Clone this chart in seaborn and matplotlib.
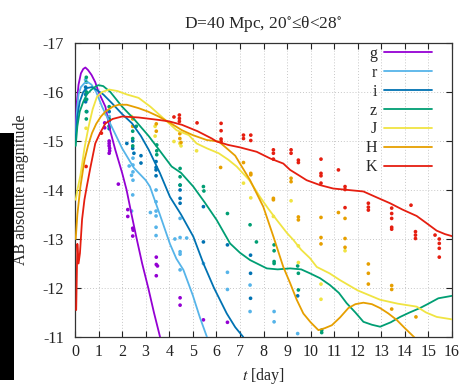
import matplotlib
matplotlib.use("Agg")
import matplotlib.pyplot as plt
import seaborn as sns
import pandas as pd
from matplotlib.patches import Rectangle

# ---- light-curve models (t in days, AB absolute magnitude) ----
bands = ["g", "r", "i", "z", "J", "H", "K"]
colors = ["#9400d3", "#56b4e9", "#0072b2", "#009e73", "#f0e442", "#e69f00", "#e51e10"]

g_t = [0.02, 0.08, 0.15, 0.25, 0.35, 0.44, 0.55, 0.7, 0.86, 1.0, 1.29, 1.5, 1.71, 2.0, 2.19, 2.4, 2.62, 2.85, 3.11, 3.35, 3.61]
g_m = [-15.2, -15.8, -16.15, -16.38, -16.47, -16.5, -16.45, -16.35, -16.2, -16.0, -15.7, -15.2, -14.82, -14.35, -14.0, -13.5, -13.0, -12.5, -12.0, -11.5, -11.0]

r_t = [0.02, 0.08, 0.15, 0.25, 0.4, 0.55, 0.7, 0.9, 1.15, 1.5, 2.0, 2.5, 3.0, 3.18, 3.6, 4.03, 4.3, 4.6, 5.0, 5.3, 5.6]
r_m = [-15.0, -15.6, -15.95, -16.1, -16.18, -16.2, -16.15, -16.0, -15.7, -15.35, -14.85, -14.45, -14.2, -14.07, -13.5, -12.9, -12.6, -12.37, -11.85, -11.4, -11.0]

i_t = [0.02, 0.1, 0.2, 0.35, 0.5, 0.72, 0.9, 1.2, 1.57, 2.0, 2.42, 2.8, 3.13, 3.6, 4.03, 4.5, 5.02, 5.45, 5.9, 6.44, 6.8, 7.14]
i_m = [-15.0, -15.5, -15.8, -16.0, -16.08, -16.1, -16.05, -15.95, -15.77, -15.55, -15.36, -15.1, -14.82, -14.35, -13.86, -13.5, -13.05, -12.5, -12.0, -11.48, -11.2, -11.0]

z_t = [0.03, 0.1, 0.2, 0.35, 0.5, 0.7, 0.9, 1.0, 1.2, 1.5, 2.0, 2.5, 3.13, 3.6, 4.1, 4.5, 5.02, 5.5, 6.01, 6.58, 7.0, 7.43, 8.14, 8.6, 9.13, 9.6, 9.97, 10.4, 10.82, 11.2, 11.53, 11.9, 12.24, 12.6, 12.95, 13.4, 13.8, 14.2, 14.64, 15.0, 15.42, 16.0]
z_m = [-14.9, -15.3, -15.6, -15.8, -15.95, -16.05, -16.12, -16.14, -16.12, -16.0, -15.7, -15.45, -15.1, -14.8, -14.48, -14.35, -14.07, -13.75, -13.39, -12.91, -12.72, -12.57, -12.4, -12.38, -12.4, -12.38, -12.3, -12.2, -12.06, -11.9, -11.69, -11.5, -11.31, -11.25, -11.21, -11.3, -11.41, -11.5, -11.59, -11.68, -11.79, -11.84]

J_t = [0.03, 0.1, 0.23, 0.4, 0.58, 0.75, 0.93, 1.15, 1.45, 1.8, 2.2, 2.7, 3.2, 3.83, 4.31, 4.83, 5.16, 5.6, 6.1, 6.5, 6.86, 7.4, 7.85, 8.2, 8.56, 9.0, 9.27, 9.6, 9.97, 10.26, 10.8, 11.25, 12.0, 12.95, 13.7, 14.5, 14.9, 15.35, 16.0]
J_m = [-13.8, -14.0, -14.3, -14.85, -15.3, -15.65, -15.9, -16.0, -16.05, -16.02, -15.95, -15.88, -15.7, -15.43, -15.22, -15.12, -14.95, -14.85, -14.75, -14.62, -14.48, -14.2, -13.86, -13.62, -13.39, -13.12, -12.98, -12.78, -12.61, -12.43, -12.3, -12.16, -11.95, -11.76, -11.68, -11.62, -11.5, -11.41, -11.36]

H_t = [0.03, 0.1, 0.23, 0.4, 0.55, 0.72, 0.9, 1.1, 1.29, 1.6, 1.85, 2.2, 2.7, 3.1, 3.55, 4.0, 4.54, 5.0, 5.59, 6.1, 6.44, 6.8, 7.0, 7.43, 7.99, 8.42, 8.84, 9.13, 9.41, 9.69, 10.0, 10.33, 10.6, 10.9, 11.25, 11.6, 11.9, 12.24, 12.6, 12.95, 13.3, 13.65, 14.0, 14.43]
H_m = [-13.0, -13.5, -14.07, -14.6, -14.9, -15.16, -15.35, -15.5, -15.6, -15.7, -15.74, -15.74, -15.67, -15.6, -15.5, -15.38, -15.22, -15.12, -15.02, -14.99, -14.85, -14.7, -14.54, -14.2, -13.66, -13.05, -12.43, -12.1, -11.76, -11.48, -11.3, -11.14, -11.18, -11.24, -11.4, -11.59, -11.67, -11.7, -11.67, -11.59, -11.48, -11.35, -11.18, -10.98]

K_t = [0.05, 0.1, 0.15, 0.21, 0.3, 0.4, 0.5, 0.65, 0.86, 1.05, 1.29, 1.6, 2.0, 2.7, 3.55, 4.0, 4.54, 5.2, 5.81, 6.01, 6.5, 7.0, 7.71, 8.3, 8.84, 9.13, 9.5, 9.83, 10.4, 10.96, 11.6, 12.24, 12.8, 13.37, 13.9, 14.5, 14.9, 15.35, 15.7, 16.06]
K_m = [-11.55, -12.9, -12.5, -12.71, -13.4, -13.8, -14.07, -14.45, -14.95, -15.15, -15.36, -15.45, -15.5, -15.48, -15.43, -15.4, -15.33, -15.2, -15.05, -14.99, -14.92, -14.87, -14.78, -14.64, -14.54, -14.41, -14.3, -14.2, -14.1, -14.03, -14.0, -13.97, -13.85, -13.73, -13.6, -13.47, -13.33, -13.17, -13.1, -13.05]

# ---- simulated photometry points ----
g_pt = [1.26, 1.26, 1.45, 1.45, 1.45, 1.47, 1.47, 1.45, 1.84, 2.24, 2.24, 2.45, 2.47, 2.45, 3.45, 3.45, 3.5, 3.45, 4.46, 4.46, 5.45, 6.47]
g_pm = [-15.37, -15.27, -15.0, -14.95, -14.9, -14.85, -14.8, -14.75, -14.12, -13.6, -13.46, -13.22, -13.18, -13.06, -12.63, -12.48, -12.45, -12.25, -11.8, -11.65, -11.35, -11.3]

r_pt = [0.45, 0.45, 0.5, 1.45, 1.45, 2.3, 2.4, 2.46, 2.46, 2.46, 2.46, 2.45, 2.4, 3.2, 3.44, 3.44, 3.44, 3.44, 3.44, 3.44, 4.24, 4.46, 4.46, 4.46, 4.46, 4.46, 4.74, 5.45, 6.47, 6.47, 7.43, 7.43, 8.45, 8.45, 9.45]
r_pm = [-16.25, -16.05, -15.85, -15.5, -15.3, -14.49, -14.3, -14.65, -14.51, -14.37, -14.2, -13.9, -13.57, -13.54, -14.0, -13.76, -13.57, -13.47, -13.24, -13.07, -13.0, -13.42, -13.03, -12.74, -12.69, -12.37, -13.02, -12.5, -12.32, -11.97, -12.06, -11.52, -11.52, -11.31, -11.07]

i_pt = [0.45, 0.45, 0.45, 0.5, 1.45, 1.45, 1.45, 2.2, 2.45, 2.45, 2.5, 2.8, 2.8, 3.44, 3.44, 3.44, 3.44, 4.46, 4.46, 4.46, 4.46, 5.45, 5.45, 6.47, 7.45, 7.45, 7.45, 9.45]
i_pm = [-16.1, -15.95, -15.8, -15.6, -15.6, -15.4, -15.25, -14.95, -15.0, -14.85, -14.75, -14.7, -14.55, -14.58, -14.46, -14.41, -14.29, -14.1, -14.0, -13.83, -13.73, -13.66, -12.94, -12.88, -12.67, -12.3, -11.79, -11.84]

z_pt = [0.48, 0.48, 0.48, 0.48, 0.48, 0.48, 1.45, 1.45, 1.45, 2.45, 2.45, 2.45, 2.6, 3.47, 3.47, 3.47, 4.46, 4.46, 4.46, 5.45, 5.47, 6.47, 7.43, 7.7, 8.45, 8.45, 8.45, 8.45, 9.45, 9.48, 9.48, 10.47, 10.47]
z_pm = [-16.3, -16.2, -16.0, -15.85, -15.6, -15.45, -15.7, -15.45, -15.3, -15.2, -15.05, -14.9, -15.3, -14.92, -14.8, -14.72, -14.44, -14.27, -14.1, -14.07, -13.98, -13.52, -13.29, -12.94, -12.88, -12.76, -12.54, -12.5, -12.45, -12.3, -11.96, -11.14, -11.09]

J_pt = [0.47, 1.3, 2.4, 2.45, 3.4, 3.4, 4.2, 4.45, 4.5, 5.16, 7.15, 7.46, 8.42, 9.17, 9.48, 9.48, 10.44, 10.44, 11.46]
J_pm = [-15.26, -15.55, -15.5, -15.3, -15.3, -15.1, -14.99, -14.95, -14.9, -14.8, -14.14, -13.84, -13.46, -13.78, -12.86, -12.52, -12.08, -11.77, -12.76]

H_pt = [2.45, 2.45, 3.45, 3.45, 4.45, 4.45, 4.5, 6.18, 7.15, 7.46, 7.46, 8.42, 8.42, 9.17, 9.17, 9.48, 9.48, 10.44, 10.44, 10.44, 11.18, 11.46, 11.46, 11.46, 12.45, 12.45, 12.45, 13.44, 13.44, 13.44, 14.47]
H_pm = [-15.45, -15.3, -15.35, -15.2, -15.15, -15.05, -14.97, -14.46, -14.56, -14.34, -14.31, -13.83, -13.8, -14.24, -14.17, -13.45, -13.39, -13.44, -13.03, -12.9, -13.54, -13.42, -13.01, -12.83, -12.49, -12.3, -12.08, -12.05, -11.97, -11.57, -11.41]

K_pt = [0.47, 1.12, 4.2, 4.43, 4.43, 4.43, 5.18, 6.2, 6.2, 6.2, 6.2, 7.15, 7.15, 7.46, 7.46, 8.42, 8.42, 8.42, 9.17, 9.17, 9.48, 9.48, 10.44, 10.44, 10.44, 10.44, 11.18, 11.46, 11.46, 11.46, 12.45, 12.45, 12.45, 13.44, 13.44, 13.44, 13.44, 13.44, 14.26, 14.45, 14.45, 14.45, 15.28, 15.46, 15.46, 15.46, 15.46]
K_pm = [-14.48, -15.16, -15.49, -15.53, -15.46, -15.4, -15.37, -15.36, -15.21, -15.04, -14.99, -15.12, -15.05, -15.12, -15.01, -14.82, -14.75, -14.63, -14.82, -14.75, -14.61, -14.56, -14.63, -14.34, -14.29, -14.14, -14.41, -14.07, -14.01, -13.64, -13.73, -13.65, -13.59, -13.63, -13.52, -13.42, -13.24, -13.2, -13.69, -13.15, -13.08, -13.01, -13.08, -13.0, -12.91, -12.81, -12.63]

y_ticks = [-17, -16, -15, -14, -13, -12, -11]
x_ticks = list(range(0, 17))

curves = {"g": (g_t, g_m), "r": (r_t, r_m), "i": (i_t, i_m), "z": (z_t, z_m),
          "J": (J_t, J_m), "H": (H_t, H_m), "K": (K_t, K_m)}
points = {"g": (g_pt, g_pm), "r": (r_pt, r_pm), "i": (i_pt, i_pm), "z": (z_pt, z_pm),
          "J": (J_pt, J_pm), "H": (H_pt, H_pm), "K": (K_pt, K_pm)}

line_df = pd.concat([pd.DataFrame({"t": t, "mag": m, "band": b}) for b, (t, m) in curves.items()],
                    ignore_index=True)
dot_df = pd.concat([pd.DataFrame({"t": t, "mag": m, "band": b}) for b, (t, m) in points.items()],
                   ignore_index=True)
palette = dict(zip(bands, colors))

sns.set_theme(style="ticks")
plt.rcParams["font.family"] = ["Liberation Serif", "DejaVu Serif"]
plt.rcParams["mathtext.fontset"] = "stix"
plt.rcParams["axes.unicode_minus"] = False

fig = plt.figure(figsize=(4.65, 3.89), dpi=100)
ax = fig.add_axes([75 / 465, 52 / 389, 377 / 465, 294 / 389])

sns.scatterplot(data=dot_df, x="t", y="mag", hue="band", hue_order=bands, palette=palette,
                s=7, linewidth=0, legend=False, ax=ax, zorder=3, clip_on=True)
sns.lineplot(data=line_df, x="t", y="mag", hue="band", hue_order=bands, palette=palette,
             sort=False, estimator=None, linewidth=1.3, ax=ax, zorder=4)

ax.set_xlim(0, 16)
ax.set_ylim(-11, -17)
ax.set_xticks(x_ticks)
ax.set_yticks(y_ticks)
ax.set_yticklabels([str(v) for v in y_ticks])
ax.grid(True, color="#c8c8c8", linestyle=(0, (1, 2)), linewidth=0.7)
ax.tick_params(direction="in", top=True, right=True, length=4, width=0.8,
               labelsize=11.5, colors="#222222")
ax.tick_params(axis="y", pad=8)
ax.tick_params(axis="x", pad=5)
for sp in ax.spines.values():
    sp.set_color("#333333")
    sp.set_linewidth(0.9)

ax.set_xlabel("$t$ [day]", fontsize=11.5, labelpad=4)
ax.set_ylabel("AB absolute magnitude", fontsize=11.5, labelpad=10)
ax.set_title("D=40 Mpc, 20$^{\\circ}$≤θ<28$^{\\circ}$", fontsize=12.5, pad=11)

handles, labels = ax.get_legend_handles_labels()
leg = ax.legend(handles, labels, loc="upper right", bbox_to_anchor=(0.947, 0.99),
                frameon=False, markerfirst=False, handlelength=3.0, handletextpad=0.45,
                labelspacing=0.18, borderaxespad=0, borderpad=0, fontsize=11.5)
for ln in leg.get_lines():
    ln.set_linewidth(1.3)

# dark strip along the left margin
fig.add_artist(Rectangle((0, 9 / 389), 14 / 465, 247 / 389, transform=fig.transFigure,
                         facecolor="black", edgecolor="none"))

fig.savefig("out.png", dpi=100)
